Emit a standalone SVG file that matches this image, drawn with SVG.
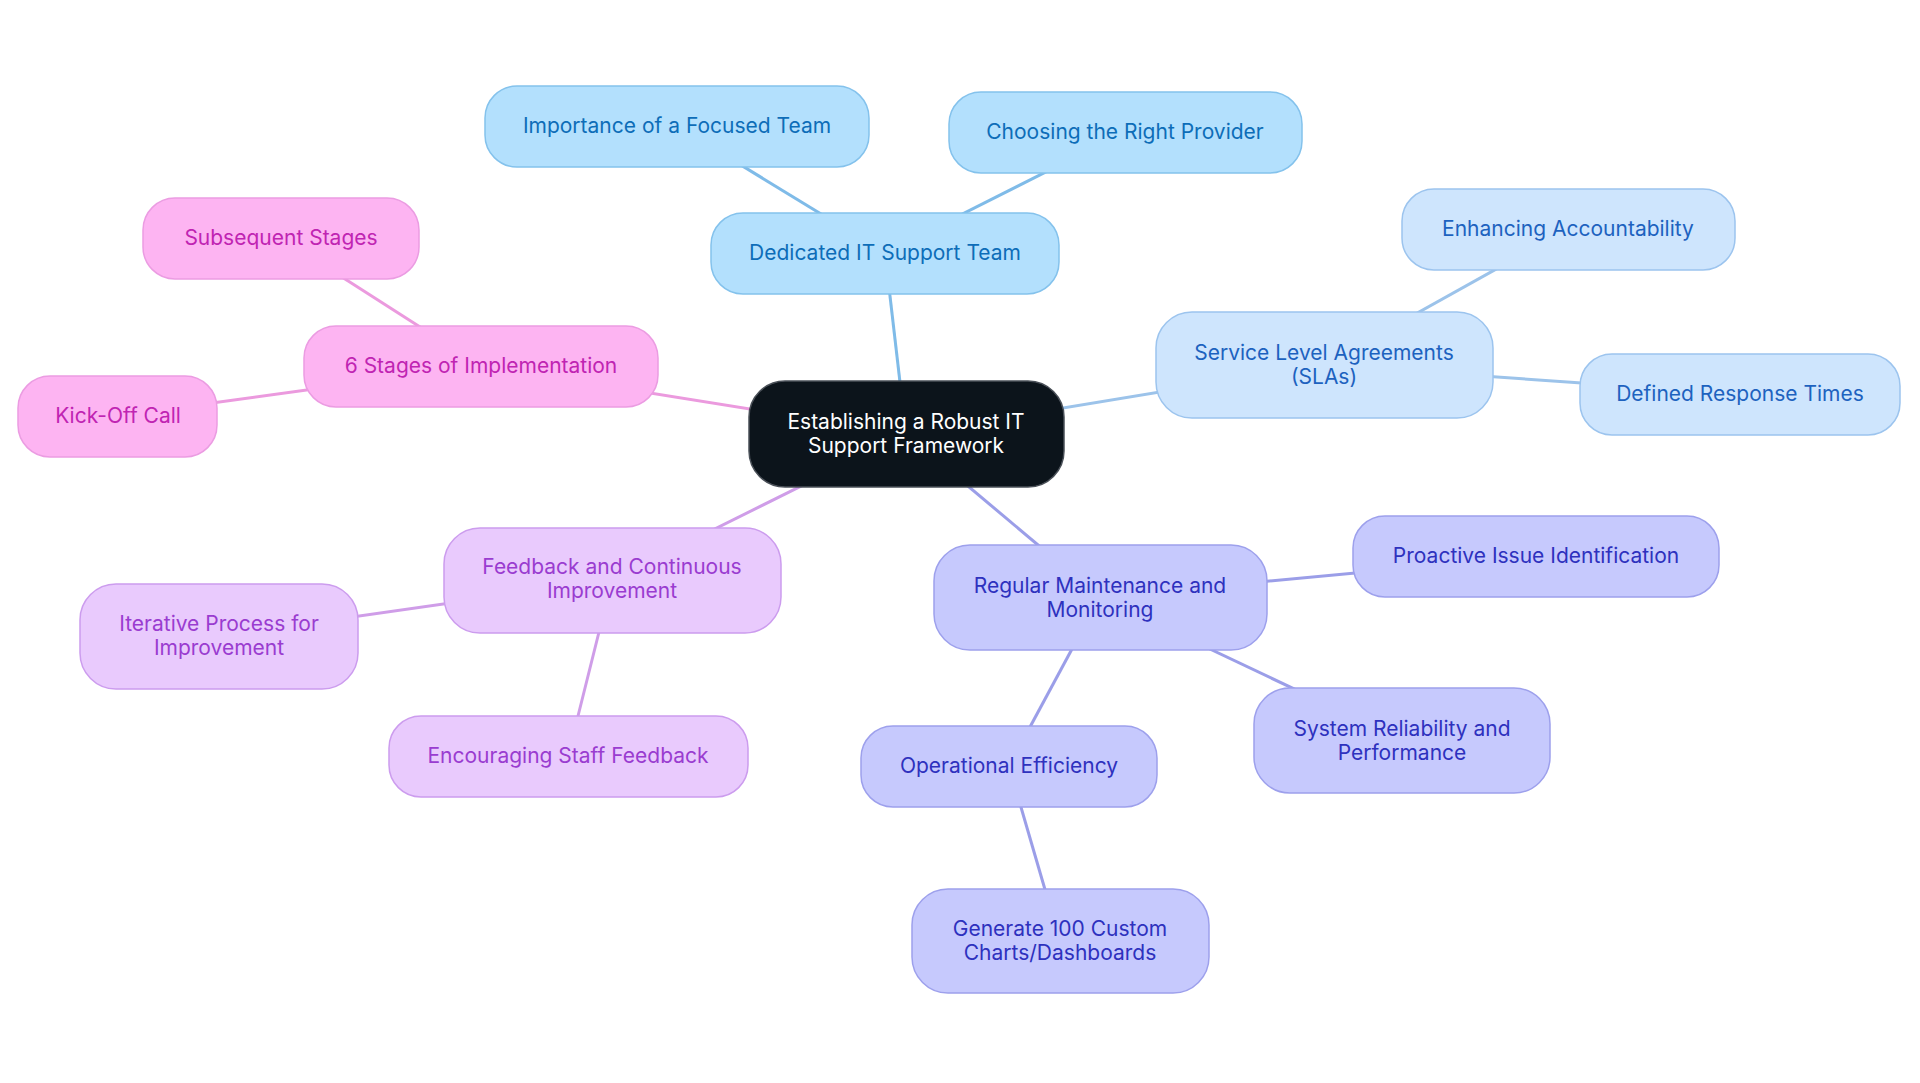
<svg xmlns="http://www.w3.org/2000/svg" width="1920" height="1083" viewBox="0 0 1920 1083">
<style>
text{font-family:Inter,"Noto Sans",sans-serif;font-size:21px;text-anchor:middle;dominant-baseline:central}
.e{stroke-width:3;fill:none}
.b1 rect{fill:#b3e0fd;stroke:#84c2ec;stroke-width:1.5}.b1 text{fill:#0d6db8}
.b2 rect{fill:#cee5fd;stroke:#9cc4ee;stroke-width:1.5}.b2 text{fill:#1d62bf}
.p1 rect{fill:#fdb4f2;stroke:#eb9ce2;stroke-width:1.5}.p1 text{fill:#c024b2}
.p2 rect{fill:#e9cafd;stroke:#cc9cee;stroke-width:1.5}.p2 text{fill:#9a3cd0}
.i1 rect{fill:#c6c9fd;stroke:#9da0ec;stroke-width:1.5}.i1 text{fill:#2e31be}
.c rect{fill:#0c141b;stroke:#4a5058;stroke-width:1.5}.c text{fill:#ffffff}
</style>
<g id="connectors">
<line class="e" stroke="#7fbbe8" x1="906" y1="434" x2="885" y2="253"/>
<line class="e" stroke="#7fbbe8" x1="885" y1="253" x2="677" y2="126"/>
<line class="e" stroke="#7fbbe8" x1="885" y1="253" x2="1125" y2="132"/>
<line class="e" stroke="#9cc3ea" x1="906" y1="434" x2="1324" y2="365"/>
<line class="e" stroke="#9cc3ea" x1="1324" y1="365" x2="1568" y2="229"/>
<line class="e" stroke="#9cc3ea" x1="1324" y1="365" x2="1740" y2="394"/>
<line class="e" stroke="#eb9ade" x1="906" y1="434" x2="481" y2="366"/>
<line class="e" stroke="#eb9ade" x1="481" y1="366" x2="281" y2="238"/>
<line class="e" stroke="#eb9ade" x1="481" y1="366" x2="117" y2="416"/>
<line class="e" stroke="#cf9de8" x1="906" y1="434" x2="612" y2="580"/>
<line class="e" stroke="#cf9de8" x1="612" y1="580" x2="219" y2="636"/>
<line class="e" stroke="#cf9de8" x1="612" y1="580" x2="568" y2="756"/>
<line class="e" stroke="#9b9ee8" x1="906" y1="434" x2="1100" y2="597"/>
<line class="e" stroke="#9b9ee8" x1="1100" y1="597" x2="1536" y2="556"/>
<line class="e" stroke="#9b9ee8" x1="1100" y1="597" x2="1402" y2="740"/>
<line class="e" stroke="#9b9ee8" x1="1100" y1="597" x2="1009" y2="766"/>
<line class="e" stroke="#9b9ee8" x1="1009" y1="766" x2="1060" y2="941"/>
</g>
<g id="center" class="c"><rect x="749" y="381" width="315" height="106" rx="36"/><text x="906" y="421">Establishing a Robust IT</text><text x="906" y="445">Support Framework</text></g>
<g id="dedicated" class="b1"><rect x="711" y="213" width="348" height="81" rx="32"/><text x="885" y="252">Dedicated IT Support Team</text></g>
<g id="importance" class="b1"><rect x="485" y="86" width="384" height="81" rx="32"/><text x="677" y="125">Importance of a Focused Team</text></g>
<g id="choosing" class="b1"><rect x="949" y="92" width="353" height="81" rx="32"/><text x="1125" y="131">Choosing the Right Provider</text></g>
<g id="sla" class="b2"><rect x="1156" y="312" width="337" height="106" rx="36"/><text x="1324" y="352">Service Level Agreements</text><text x="1324" y="376">(SLAs)</text></g>
<g id="accountability" class="b2"><rect x="1402" y="189" width="333" height="81" rx="32"/><text x="1568" y="228">Enhancing Accountability</text></g>
<g id="response" class="b2"><rect x="1580" y="354" width="320" height="81" rx="32"/><text x="1740" y="393">Defined Response Times</text></g>
<g id="stages" class="p1"><rect x="304" y="326" width="354" height="81" rx="32"/><text x="481" y="365">6 Stages of Implementation</text></g>
<g id="subsequent" class="p1"><rect x="143" y="198" width="276" height="81" rx="32"/><text x="281" y="237">Subsequent Stages</text></g>
<g id="kickoff" class="p1"><rect x="18" y="376" width="199" height="81" rx="32"/><text x="118" y="415">Kick-Off Call</text></g>
<g id="feedback" class="p2"><rect x="444" y="528" width="337" height="105" rx="36"/><text x="612" y="566">Feedback and Continuous</text><text x="612" y="590">Improvement</text></g>
<g id="iterative" class="p2"><rect x="80" y="584" width="278" height="105" rx="36"/><text x="219" y="623">Iterative Process for</text><text x="219" y="647">Improvement</text></g>
<g id="encouraging" class="p2"><rect x="389" y="716" width="359" height="81" rx="32"/><text x="568" y="755">Encouraging Staff Feedback</text></g>
<g id="maintenance" class="i1"><rect x="934" y="545" width="333" height="105" rx="36"/><text x="1100" y="585">Regular Maintenance and</text><text x="1100" y="609">Monitoring</text></g>
<g id="proactive" class="i1"><rect x="1353" y="516" width="366" height="81" rx="32"/><text x="1536" y="555">Proactive Issue Identification</text></g>
<g id="reliability" class="i1"><rect x="1254" y="688" width="296" height="105" rx="36"/><text x="1402" y="728">System Reliability and</text><text x="1402" y="752">Performance</text></g>
<g id="operational" class="i1"><rect x="861" y="726" width="296" height="81" rx="32"/><text x="1009" y="765">Operational Efficiency</text></g>
<g id="generate" class="i1"><rect x="912" y="889" width="297" height="104" rx="36"/><text x="1060" y="928">Generate 100 Custom</text><text x="1060" y="952">Charts/Dashboards</text></g>
</svg>
